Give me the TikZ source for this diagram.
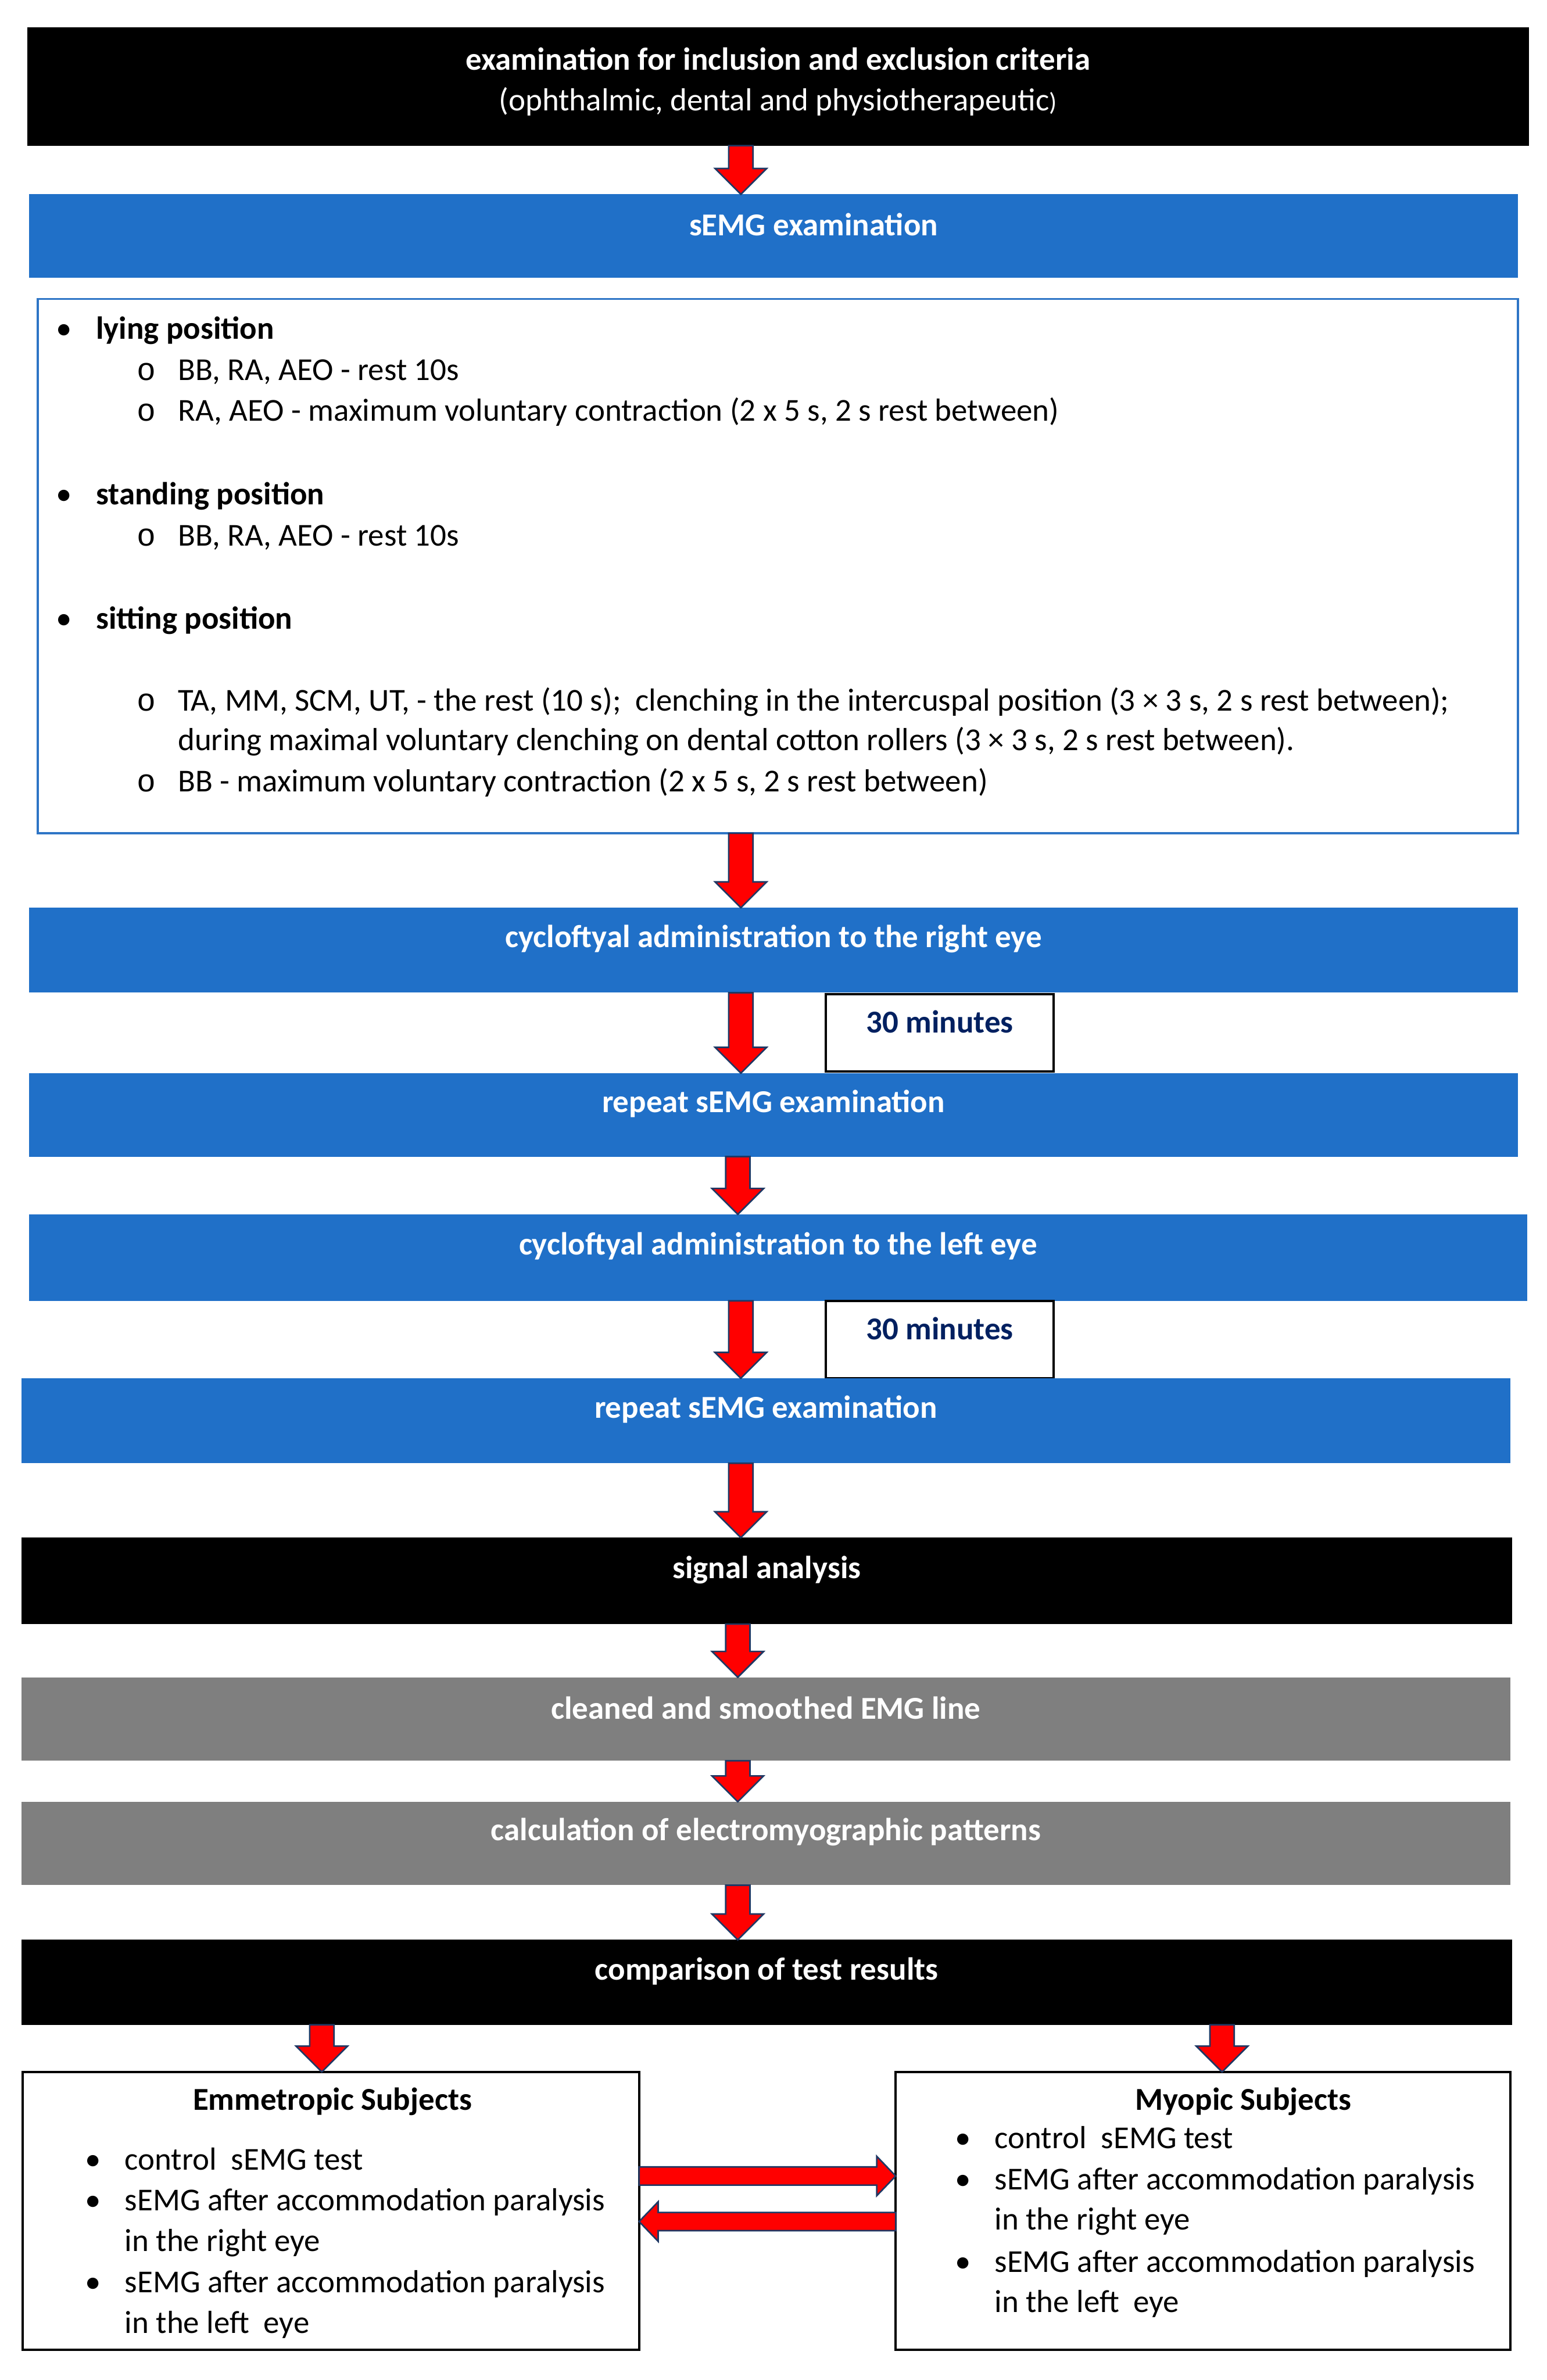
\documentclass[tikz,border=0pt]{standalone}
\usepackage{fontspec}
\setmainfont{Carlito}
\newfontfamily\monofont{Liberation Mono}
\usetikzlibrary{calc,fit}

\definecolor{semgblue}{RGB}{32,112,200}
\definecolor{boxblue}{RGB}{46,117,198}
\definecolor{arrnavy}{RGB}{31,56,100}
\definecolor{waitnavy}{RGB}{0,32,96}
\definecolor{stepgrey}{RGB}{127,127,127}

\newcommand{\basefont}{\fontsize{16.4}{21}\selectfont}
\newcommand{\bul}{\makebox[0.72cm][l]{\textbullet}}
\newcommand{\subbul}{\makebox[0.74cm][l]{\monofont o}}

% block arrow downwards: x, from node, to node
\newcommand{\downarr}[3]{%
	\coordinate (s) at (#1,0 |- #2.south);
	\coordinate (e) at (#1,0 |- #3.north);
	\draw[blockarr] ($(s)+(-8,0)$) -- ($(e)+(-8,-17)$) -- ($(e)+(-17,-17)$) -- (e)
		-- ($(e)+(17,-17)$) -- ($(e)+(8,-17)$) -- ($(s)+(8,0)$) -- cycle;}
% block arrow sideways: y, from anchor, to anchor, signed head length
\newcommand{\harr}[4]{%
	\coordinate (s) at (#2 |- 0,#1);
	\coordinate (e) at (#3 |- 0,#1);
	\draw[blockarr] ($(s)+(0,-6)$) -- ($(e)+(#4,-6)$) -- ($(e)+(#4,-13)$) -- (e)
		-- ($(e)+(#4,13)$) -- ($(e)+(#4,6)$) -- ($(s)+(0,6)$) -- cycle;}

\tikzset{
	stepbox/.style={inner sep=0pt, outer sep=0pt, text=white, font=\basefont\bfseries},
	oneline/.style={text height=10pt, text depth=14pt},
	bluestep/.style={stepbox, oneline, fill=semgblue},
	blackstep/.style={stepbox, oneline, fill=black},
	greystep/.style={stepbox, oneline, fill=stepgrey},
	waitbox/.style={draw=black, line width=1.2pt, inner sep=0pt, outer sep=0pt, text=waitnavy,
		font=\basefont\bfseries, text height=10pt, text depth=10pt},
	listbox/.style={draw=boxblue, line width=1.1pt, inner sep=0pt, outer sep=0pt},
	groupbox/.style={draw=black, line width=1.3pt, inner sep=0pt, outer sep=0pt},
	item/.style={anchor=base west, inner sep=0pt},
	blockarr/.style={fill=red, draw=arrnavy, line width=0.8pt, line join=miter}
}

\begin{document}
\begin{tikzpicture}[x=0.0274cm, y=-0.0274cm, font=\basefont]
	\useasboundingbox (0,0) rectangle (1019,1568);
	% steps
	\node[stepbox, fill=black, text height=0pt, text depth=0pt, fit={(18,18) (1007,96)}] (crit)
		{\raisebox{-21pt}{\begin{tabular}{@{}c@{}}examination for inclusion and exclusion criteria\\
		\mdseries (ophthalmic, dental and physiotherapeutic{\fontsize{13}{16}\selectfont )}\end{tabular}}};
	\node[bluestep, fit={(19,128) (1000,183)}] (semg) {\hspace*{1.45cm}sEMG examination};
	\node[listbox, fit={(25,197) (1000,549)}] (protocol) {};
	\node[bluestep, fit={(19,598) (1000,654)}] (cycright) {cycloftyal administration to the right eye};
	\node[waitbox, fit={(544,655) (694,706)}] (waitright) {30 minutes};
	\node[bluestep, fit={(19,707) (1000,762)}] (repright) {repeat sEMG examination};
	\node[bluestep, fit={(19,800) (1006,857)}] (cycleft) {cycloftyal administration to the left eye};
	\node[waitbox, fit={(544,857) (694,908)}] (waitleft) {30 minutes};
	\node[bluestep, fit={(14,908) (995,964)}] (repleft) {repeat sEMG examination};
	\node[blackstep, fit={(14,1013) (996,1070)}] (signal) {signal analysis};
	\node[greystep, fit={(14,1105) (995,1160)}] (clean) {cleaned and smoothed EMG line};
	\node[greystep, fit={(14,1187) (995,1242)}] (pattern) {calculation of electromyographic patterns};
	\node[blackstep, fit={(14,1278) (996,1334)}] (compare) {comparison of test results};
	% protocol list
	\node[item] (lying) at (36.7,223.5) {\bul\textbf{lying position}};
	\node[item] (lyrest) at (90,250.5) {\subbul BB, RA, AEO - rest 10s};
	\node[item] (lymvc) at (90,277.5) {\subbul RA, AEO - maximum voluntary contraction (2 x 5 s, 2 s rest between)};
	\node[item] (stand) at (36.7,332.5) {\bul\textbf{standing position}};
	\node[item] (strest) at (90,359.5) {\subbul BB, RA, AEO - rest 10s};
	\node[item] (sit) at (36.7,414.5) {\bul\textbf{sitting position}};
	\node[item] (sitrest) at (90,468.5) {\subbul TA, MM, SCM, UT, - the rest (10 s);\ \ clenching in the intercuspal position (3 × 3 s, 2 s rest between);};
	\node[item] (sitclench) at (117,494.5) {during maximal voluntary clenching on dental cotton rollers (3 × 3 s, 2 s rest between).};
	\node[item] (sitmvc) at (90,521.5) {\subbul BB - maximum voluntary contraction (2 x 5 s, 2 s rest between)};
	% subject groups
	\node[groupbox, fit={(15,1365) (421,1548)}] (emme) {};
	\node[anchor=base, inner sep=0pt, font=\basefont\bfseries] (emmetitle) at (219,1390) {Emmetropic Subjects};
	\node[item] (emctrl) at (55.7,1429.5) {\bul control\ \ sEMG test};
	\node[item] (emright) at (55.7,1456.5) {\bul sEMG after accommodation paralysis};
	\node[item] (emright2) at (82,1483) {in the right eye};
	\node[item] (emleft) at (55.7,1510.5) {\bul sEMG after accommodation paralysis};
	\node[item] (emleft2) at (82,1537) {in the left\ \ eye};
	\node[groupbox, fit={(590,1365) (995,1548)}] (myop) {};
	\node[anchor=base, inner sep=0pt, font=\basefont\bfseries] (myoptitle) at (819,1390) {Myopic Subjects};
	\node[item] (myctrl) at (628.7,1415.5) {\bul control\ \ sEMG test};
	\node[item] (myright) at (628.7,1442.5) {\bul sEMG after accommodation paralysis};
	\node[item] (myright2) at (655,1469) {in the right eye};
	\node[item] (myleft) at (628.7,1497) {\bul sEMG after accommodation paralysis};
	\node[item] (myleft2) at (655,1523.5) {in the left\ \ eye};
	% arrows
	\downarr{488}{crit}{semg}
	\downarr{488}{protocol}{cycright}
	\downarr{488}{cycright}{repright}
	\downarr{486}{repright}{cycleft}
	\downarr{488}{cycleft}{repleft}
	\downarr{488}{repleft}{signal}
	\downarr{486}{signal}{clean}
	\downarr{486}{clean}{pattern}
	\downarr{486}{pattern}{compare}
	\downarr{212}{compare}{emme}
	\downarr{805}{compare}{myop}
	\harr{1433.6}{emme.east}{myop.west}{-12.5}
	\harr{1463.6}{myop.west}{emme.east}{12.5}
\end{tikzpicture}
\end{document}
